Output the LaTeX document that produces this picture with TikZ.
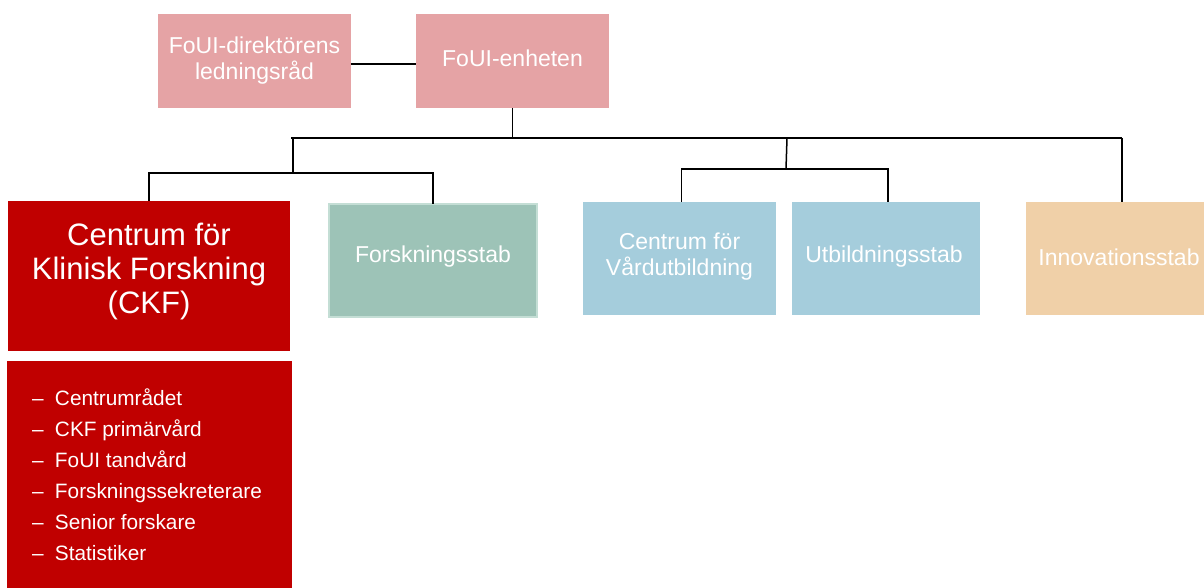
\documentclass[tikz,border=0pt]{standalone}
\usepackage{fontspec}
\setmainfont{Liberation Sans}
\definecolor{pinkbox}{RGB}{229,163,165}
\definecolor{ckfred}{RGB}{192,0,0}
\definecolor{greenbox}{RGB}{157,195,183}
\definecolor{greenedge}{RGB}{196,222,213}
\definecolor{bluebox}{RGB}{165,205,220}
\definecolor{orangebox}{RGB}{240,208,168}
\begin{document}
\begin{tikzpicture}[x=1pt,y=-1pt,
  box/.style={rectangle, inner sep=0pt, outer sep=0pt, draw=none},
  lbl/.style={inner sep=0pt, outer sep=0pt, text=white, align=center, font=\fontsize{23}{26}\selectfont},
  conn/.style={draw=black, line width=1.5pt}]
\clip (0,0) rectangle (1204,588);
\fill[white] (0,0) rectangle (1204,588);

% boxes
\node[box, fill=pinkbox, minimum width=193pt, minimum height=94pt] (dir) at (254.5,61) {};
\node[box, fill=pinkbox, minimum width=193pt, minimum height=94pt] (enh) at (512.5,61) {};
\node[box, fill=ckfred, minimum width=282pt, minimum height=150pt] (ckf) at (149,276) {};
\node[box, fill=greenbox, draw=greenedge, line width=1.5pt, minimum width=208pt, minimum height=113pt] (fst) at (433,260.5) {};
\node[box, fill=bluebox, minimum width=193pt, minimum height=113pt] (cfv) at (679.5,258.5) {};
\node[box, fill=bluebox, minimum width=188pt, minimum height=113pt] (utb) at (886,258.5) {};
\node[box, fill=orangebox, minimum width=186pt, minimum height=113pt] (inn) at (1119,258.5) {};
\node[box, fill=ckfred, minimum width=285pt, minimum height=239pt] (ckflist) at (149.5,480.5) {};

% labels
\node[lbl] (dirt) at (254.5,61) {FoUI-direktörens\\ledningsråd};
\node[lbl] (enht) at (512.5,58) {FoUI-enheten};
\node[lbl, font=\fontsize{31}{34}\selectfont] (ckft) at (149,271.5) {Centrum för\\Klinisk Forskning\\(CKF)};
\node[lbl] (fstt) at (433,257) {Forskningsstab};
\node[lbl] (cfvt) at (679.5,257) {Centrum för\\Vårdutbildning};
\node[lbl] (utbt) at (884,257) {Utbildningsstab};
\node[lbl] (innt) at (1119,257) {Innovationsstab};
\node[lbl, align=left, anchor=north west, font=\fontsize{20.8}{31}\selectfont] (items) at (32,389)
  {\makebox[23pt][l]{–}Centrumrådet\\
   \makebox[23pt][l]{–}CKF primärvård\\
   \makebox[23pt][l]{–}FoUI tandvård\\
   \makebox[23pt][l]{–}Forskningssekreterare\\
   \makebox[23pt][l]{–}Senior forskare\\
   \makebox[23pt][l]{–}Statistiker};

% connectors
\coordinate (busL) at (291,138);
\coordinate (busR) at (1122,138);
\coordinate (lj) at (293,138);
\coordinate (lbus) at (293,173);
\coordinate (rj) at (787,138);
\coordinate (rbus) at (786,169);

\draw[conn] ([yshift=-3pt]dir.east) -- ([yshift=-3pt]enh.west);
\draw[conn] (enh.south) -- (enh.south |- busL);
\draw[conn] (busL) -- (busR);
\draw[conn] (busR) -- (busR |- inn.north);
\draw[conn] (lj) -- (lbus);
\draw[conn] (ckf.north) -- (ckf.north |- lbus) -- (fst.north |- lbus) -- (fst.north);
\draw[conn] (rj) -- (rbus);
\draw[conn] ([xshift=2pt]cfv.north) -- ([xshift=2pt]cfv.north |- rbus) -- ([xshift=2pt]utb.north |- rbus) -- ([xshift=2pt]utb.north);
\end{tikzpicture}
\end{document}
